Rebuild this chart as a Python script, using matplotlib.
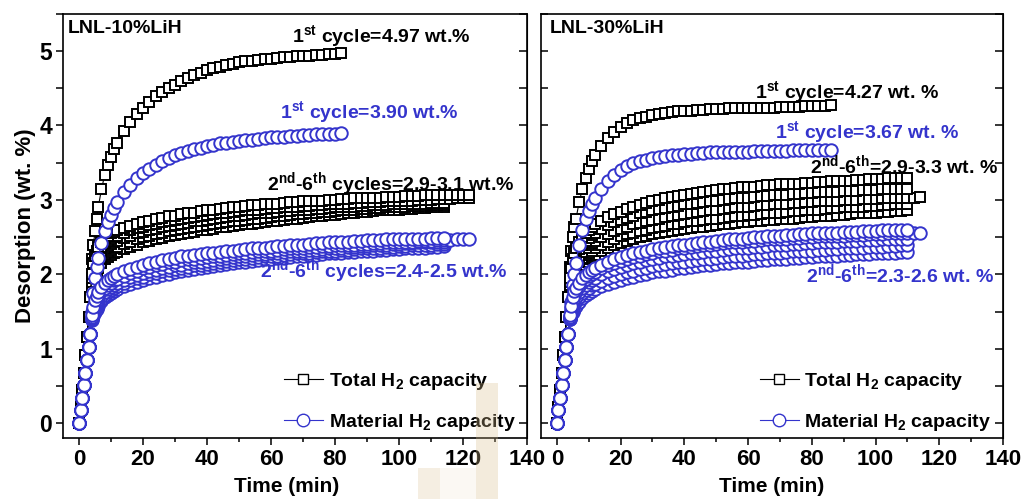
import matplotlib
matplotlib.use('Agg')
import matplotlib.pyplot as plt
from matplotlib.lines import Line2D
from matplotlib.patches import Rectangle
from matplotlib.ticker import MultipleLocator

plt.rcParams['font.family'] = ['Liberation Sans', 'DejaVu Sans']
plt.rcParams['font.weight'] = 'bold'
plt.rcParams['mathtext.fontset'] = 'custom'
plt.rcParams['mathtext.rm'] = 'Liberation Sans:bold'
plt.rcParams['mathtext.it'] = 'Liberation Sans:bold'
plt.rcParams['mathtext.bf'] = 'Liberation Sans:bold'

BLUE = '#3434cc'

# sampling times (min), shared by every run
TIME = [0, 0.5, 1, 1.5, 2, 2.5, 3, 3.5,
        4, 4.5, 5, 5.5, 6, 7, 8, 9, 10, 11, 12,
        14, 16, 18, 20, 22, 24, 26, 28, 30, 32,
        34, 36, 38, 40, 42, 44, 46, 48, 50, 52,
        54, 56, 58, 60, 62, 64, 66, 68, 70, 72,
        74, 76, 78, 80, 82, 84, 86, 88, 90, 92,
        94, 96, 98, 100, 102, 104, 106, 108, 110, 112,
        114, 116, 118, 120, 122]

# heating ramp, common to all cycles (t = 0 ... 3.5 min)
RAMP_TOTAL = [0, 0.22, 0.45, 0.68, 0.92, 1.16, 1.42, 1.7]
RAMP_MAT = [0, 0.17, 0.34, 0.51, 0.68, 0.85, 1.02, 1.2]

# ---- LNL-10%LiH, values from t = 4 min on
TOT10_C1 = [2.2, 2.4, 2.58, 2.75, 2.9, 3.14, 3.33, 3.47, 3.58, 3.68, 3.77,
            3.92, 4.05, 4.15, 4.24, 4.32, 4.39, 4.45, 4.5, 4.55, 4.6,
            4.64, 4.68, 4.71, 4.74, 4.77, 4.79, 4.81, 4.83, 4.85, 4.86,
            4.87, 4.88, 4.89, 4.9, 4.91, 4.92, 4.92, 4.93, 4.94, 4.94,
            4.95, 4.95, 4.96, 4.96, 4.97]
MAT10_C1 = [1.5, 1.75, 1.95, 2.1, 2.22, 2.42, 2.58, 2.7, 2.8, 2.89, 2.97,
            3.1, 3.2, 3.29, 3.36, 3.42, 3.47, 3.52, 3.56, 3.6, 3.63,
            3.66, 3.68, 3.7, 3.72, 3.74, 3.76, 3.77, 3.78, 3.79, 3.8,
            3.81, 3.82, 3.83, 3.84, 3.84, 3.85, 3.86, 3.86, 3.87, 3.87,
            3.88, 3.88, 3.89, 3.89, 3.90]
TOT10_C2 = [2.0, 2.15, 2.25, 2.32, 2.37, 2.44, 2.49, 2.52, 2.55, 2.57, 2.59,
            2.62, 2.65, 2.68, 2.7, 2.72, 2.74, 2.76, 2.78, 2.79, 2.81,
            2.82, 2.83, 2.85, 2.86, 2.87, 2.88, 2.89, 2.9, 2.91, 2.92,
            2.93, 2.93, 2.94, 2.95, 2.95, 2.96, 2.97, 2.97, 2.98, 2.98,
            2.99, 2.99, 3.0, 3.0, 3.01, 3.01, 3.02, 3.02, 3.03, 3.03,
            3.03, 3.04, 3.04, 3.04, 3.05, 3.05, 3.05, 3.06, 3.06, 3.06,
            3.06, 3.07, 3.07, 3.07, 3.07]
TOT10_C3 = [1.95, 2.08, 2.18, 2.25, 2.3, 2.37, 2.42, 2.45, 2.48, 2.5, 2.52,
            2.56, 2.59, 2.62, 2.64, 2.66, 2.68, 2.7, 2.72, 2.73, 2.75,
            2.76, 2.77, 2.79, 2.8, 2.81, 2.82, 2.83, 2.84, 2.85, 2.86,
            2.87, 2.87, 2.88, 2.89, 2.89, 2.9, 2.91, 2.91, 2.92, 2.92,
            2.93, 2.93, 2.94, 2.94, 2.95, 2.95, 2.96, 2.96, 2.97, 2.97,
            2.97, 2.98, 2.98, 2.99, 2.99, 2.99, 3.0, 3.0, 3.0, 3.01,
            3.01, 3.01, 3.02, 3.02, 3.02]
TOT10_C4 = [1.9, 2.02, 2.11, 2.18, 2.23, 2.3, 2.35, 2.38, 2.41, 2.43, 2.45,
            2.49, 2.52, 2.55, 2.57, 2.59, 2.61, 2.63, 2.65, 2.66, 2.68,
            2.69, 2.71, 2.72, 2.73, 2.74, 2.76, 2.77, 2.78, 2.79, 2.8,
            2.81, 2.82, 2.82, 2.83, 2.84, 2.85, 2.85, 2.86, 2.87, 2.87,
            2.88, 2.88, 2.89, 2.9, 2.9, 2.91, 2.91, 2.92, 2.92, 2.93,
            2.93, 2.93, 2.94, 2.94, 2.94, 2.95, 2.95, 2.95, 2.96, 2.96,
            2.96]
TOT10_C5 = [1.85, 1.96, 2.04, 2.1, 2.15, 2.22, 2.27, 2.3, 2.33, 2.35, 2.37,
            2.41, 2.44, 2.47, 2.5, 2.52, 2.54, 2.56, 2.58, 2.59, 2.61,
            2.62, 2.64, 2.65, 2.66, 2.68, 2.69, 2.7, 2.71, 2.72, 2.73,
            2.74, 2.75, 2.76, 2.77, 2.78, 2.79, 2.8, 2.81, 2.81, 2.82,
            2.83, 2.84, 2.84, 2.85, 2.86, 2.86, 2.87, 2.88, 2.88, 2.89,
            2.89, 2.9, 2.9, 2.91, 2.91, 2.92, 2.92, 2.92, 2.93, 2.93,
            2.93]
TOT10_C6 = [1.8, 1.9, 1.97, 2.03, 2.08, 2.15, 2.2, 2.23, 2.26, 2.28, 2.3,
            2.34, 2.37, 2.4, 2.43, 2.45, 2.47, 2.49, 2.51, 2.53, 2.54,
            2.56, 2.57, 2.59, 2.6, 2.61, 2.63, 2.64, 2.65, 2.66, 2.67,
            2.68, 2.69, 2.7, 2.71, 2.72, 2.73, 2.74, 2.75, 2.76, 2.77,
            2.78, 2.79, 2.8, 2.8, 2.81, 2.82, 2.83, 2.84, 2.84, 2.85,
            2.86, 2.86, 2.87, 2.87, 2.88, 2.88, 2.89, 2.89, 2.9, 2.9,
            2.9]
MAT10_C2 = [1.45, 1.56, 1.65, 1.71, 1.76, 1.83, 1.88, 1.92, 1.95, 1.98, 2.0,
            2.04, 2.07, 2.1, 2.13, 2.15, 2.17, 2.19, 2.21, 2.22, 2.24,
            2.25, 2.26, 2.27, 2.28, 2.29, 2.3, 2.31, 2.32, 2.33, 2.34,
            2.35, 2.35, 2.36, 2.37, 2.38, 2.38, 2.39, 2.4, 2.4, 2.41,
            2.42, 2.42, 2.43, 2.43, 2.44, 2.44, 2.45, 2.45, 2.46, 2.46,
            2.46, 2.47, 2.47, 2.47, 2.48, 2.48, 2.48, 2.48, 2.49, 2.49,
            2.49]
MAT10_C3 = [1.43, 1.53, 1.6, 1.66, 1.7, 1.77, 1.82, 1.86, 1.89, 1.92, 1.94,
            1.98, 2.02, 2.05, 2.08, 2.1, 2.12, 2.14, 2.16, 2.17, 2.19,
            2.2, 2.21, 2.22, 2.23, 2.24, 2.25, 2.26, 2.27, 2.28, 2.29,
            2.3, 2.31, 2.32, 2.32, 2.33, 2.34, 2.35, 2.35, 2.36, 2.37,
            2.37, 2.38, 2.38, 2.39, 2.39, 2.4, 2.4, 2.41, 2.41, 2.42,
            2.42, 2.43, 2.43, 2.44, 2.44, 2.44, 2.45, 2.45, 2.45, 2.46,
            2.46, 2.46, 2.47, 2.47, 2.47]
MAT10_C4 = [1.41, 1.5, 1.56, 1.61, 1.65, 1.71, 1.76, 1.8, 1.83, 1.86, 1.88,
            1.92, 1.96, 1.99, 2.02, 2.04, 2.06, 2.08, 2.1, 2.12, 2.13,
            2.15, 2.16, 2.17, 2.18, 2.19, 2.21, 2.22, 2.23, 2.24, 2.25,
            2.26, 2.27, 2.27, 2.28, 2.29, 2.3, 2.31, 2.31, 2.32, 2.33,
            2.33, 2.34, 2.35, 2.35, 2.36, 2.37, 2.37, 2.38, 2.38, 2.39,
            2.4, 2.4, 2.41, 2.41, 2.42, 2.42, 2.43, 2.43, 2.44, 2.44,
            2.44]
MAT10_C5 = [1.4, 1.47, 1.53, 1.57, 1.61, 1.67, 1.72, 1.76, 1.79, 1.82, 1.84,
            1.88, 1.92, 1.95, 1.97, 2.0, 2.02, 2.04, 2.06, 2.07, 2.09,
            2.1, 2.12, 2.13, 2.14, 2.15, 2.17, 2.18, 2.19, 2.2, 2.21,
            2.22, 2.23, 2.24, 2.25, 2.25, 2.26, 2.27, 2.28, 2.29, 2.29,
            2.3, 2.31, 2.31, 2.32, 2.33, 2.33, 2.34, 2.35, 2.35, 2.36,
            2.36, 2.37, 2.37, 2.38, 2.38, 2.39, 2.39, 2.4, 2.4, 2.41,
            2.41]
MAT10_C6 = [1.38, 1.44, 1.5, 1.54, 1.58, 1.64, 1.69, 1.72, 1.75, 1.78, 1.8,
            1.84, 1.87, 1.9, 1.93, 1.95, 1.97, 1.99, 2.01, 2.03, 2.04,
            2.06, 2.07, 2.09, 2.1, 2.11, 2.12, 2.14, 2.15, 2.16, 2.17,
            2.18, 2.19, 2.2, 2.21, 2.22, 2.22, 2.23, 2.24, 2.25, 2.26,
            2.26, 2.27, 2.28, 2.28, 2.29, 2.3, 2.3, 2.31, 2.32, 2.32,
            2.33, 2.33, 2.34, 2.34, 2.35, 2.35, 2.36, 2.36, 2.37, 2.37,
            2.38]

# ---- LNL-30%LiH, values from t = 4 min on
TOT30_C1 = [2.1, 2.32, 2.5, 2.63, 2.75, 2.97, 3.15, 3.3, 3.42, 3.52, 3.6,
            3.73, 3.83, 3.91, 3.98, 4.03, 4.07, 4.1, 4.12, 4.14, 4.16,
            4.17, 4.18, 4.19, 4.2, 4.2, 4.21, 4.21, 4.22, 4.22, 4.22,
            4.23, 4.23, 4.23, 4.23, 4.24, 4.24, 4.24, 4.24, 4.25, 4.25,
            4.25, 4.25, 4.26, 4.26, 4.26, 4.26, 4.27]
MAT30_C1 = [1.4, 1.63, 1.85, 2.0, 2.15, 2.4, 2.6, 2.74, 2.85, 2.94, 3.02,
            3.15, 3.25, 3.33, 3.4, 3.45, 3.49, 3.52, 3.54, 3.56, 3.58,
            3.59, 3.6, 3.61, 3.62, 3.62, 3.63, 3.63, 3.64, 3.64, 3.64,
            3.65, 3.65, 3.65, 3.65, 3.66, 3.66, 3.66, 3.66, 3.66, 3.66,
            3.67, 3.67, 3.67, 3.67, 3.67, 3.67, 3.67]
TOT30_C2 = [1.95, 2.08, 2.2, 2.28, 2.35, 2.44, 2.5, 2.55, 2.6, 2.64, 2.67,
            2.72, 2.77, 2.81, 2.84, 2.88, 2.91, 2.93, 2.96, 2.98, 3.0,
            3.02, 3.04, 3.05, 3.07, 3.08, 3.09, 3.1, 3.12, 3.13, 3.14,
            3.15, 3.16, 3.17, 3.17, 3.18, 3.19, 3.2, 3.2, 3.21, 3.21,
            3.22, 3.22, 3.23, 3.23, 3.24, 3.24, 3.25, 3.25, 3.26, 3.26,
            3.27, 3.27, 3.28, 3.28, 3.28, 3.29, 3.29, 3.29, 3.3]
TOT30_C3 = [1.9, 2.02, 2.12, 2.2, 2.26, 2.34, 2.4, 2.45, 2.49, 2.53, 2.56,
            2.61, 2.66, 2.7, 2.73, 2.76, 2.79, 2.82, 2.84, 2.86, 2.88,
            2.89, 2.91, 2.92, 2.94, 2.95, 2.96, 2.97, 2.98, 2.99, 3.0,
            3.01, 3.02, 3.02, 3.03, 3.04, 3.05, 3.05, 3.06, 3.07, 3.07,
            3.08, 3.08, 3.09, 3.09, 3.1, 3.1, 3.11, 3.11, 3.12, 3.12,
            3.12, 3.13, 3.13, 3.13, 3.14, 3.14, 3.14, 3.15, 3.15]
TOT30_C4 = [1.85, 1.96, 2.05, 2.12, 2.17, 2.25, 2.3, 2.35, 2.39, 2.42, 2.45,
            2.5, 2.54, 2.58, 2.61, 2.64, 2.67, 2.69, 2.71, 2.73, 2.75,
            2.77, 2.78, 2.8, 2.81, 2.83, 2.84, 2.85, 2.86, 2.87, 2.88,
            2.89, 2.9, 2.91, 2.91, 2.92, 2.93, 2.93, 2.94, 2.95, 2.95,
            2.96, 2.96, 2.97, 2.97, 2.98, 2.98, 2.99, 2.99, 3.0, 3.0,
            3.0, 3.01, 3.01, 3.01, 3.02, 3.02, 3.02, 3.03, 3.03, 3.03,
            3.04]
TOT30_C5 = [1.82, 1.91, 2.0, 2.06, 2.1, 2.17, 2.22, 2.26, 2.29, 2.32, 2.35,
            2.4, 2.44, 2.48, 2.51, 2.54, 2.56, 2.58, 2.6, 2.62, 2.64,
            2.65, 2.67, 2.68, 2.7, 2.71, 2.72, 2.73, 2.74, 2.75, 2.76,
            2.77, 2.78, 2.79, 2.8, 2.8, 2.81, 2.82, 2.83, 2.83, 2.84,
            2.85, 2.85, 2.86, 2.87, 2.87, 2.88, 2.89, 2.89, 2.9, 2.9,
            2.91, 2.91, 2.92, 2.92, 2.93, 2.93, 2.94, 2.94, 2.95]
TOT30_C6 = [1.78, 1.85, 1.92, 1.97, 2.02, 2.08, 2.13, 2.17, 2.2, 2.23, 2.26,
            2.31, 2.35, 2.39, 2.42, 2.45, 2.47, 2.5, 2.52, 2.54, 2.55,
            2.57, 2.58, 2.6, 2.61, 2.62, 2.63, 2.64, 2.65, 2.66, 2.67,
            2.68, 2.69, 2.7, 2.7, 2.71, 2.72, 2.73, 2.73, 2.74, 2.75,
            2.75, 2.76, 2.77, 2.77, 2.78, 2.79, 2.79, 2.8, 2.8, 2.81,
            2.82, 2.82, 2.83, 2.83, 2.84, 2.84, 2.85, 2.85, 2.86]
MAT30_C2 = [1.45, 1.58, 1.7, 1.77, 1.82, 1.89, 1.95, 1.99, 2.03, 2.06, 2.08,
            2.13, 2.17, 2.2, 2.23, 2.26, 2.28, 2.3, 2.32, 2.34, 2.36,
            2.37, 2.38, 2.39, 2.4, 2.41, 2.42, 2.43, 2.44, 2.45, 2.46,
            2.47, 2.48, 2.48, 2.49, 2.5, 2.5, 2.51, 2.52, 2.52, 2.53,
            2.53, 2.54, 2.54, 2.55, 2.55, 2.55, 2.56, 2.56, 2.57, 2.57,
            2.57, 2.58, 2.58, 2.58, 2.59, 2.59, 2.59, 2.6, 2.6]
MAT30_C3 = [1.43, 1.55, 1.66, 1.72, 1.77, 1.84, 1.9, 1.94, 1.98, 2.01, 2.03,
            2.08, 2.12, 2.15, 2.18, 2.21, 2.23, 2.25, 2.27, 2.29, 2.31,
            2.32, 2.33, 2.35, 2.36, 2.37, 2.38, 2.39, 2.4, 2.41, 2.42,
            2.43, 2.43, 2.44, 2.45, 2.45, 2.46, 2.47, 2.47, 2.48, 2.48,
            2.49, 2.49, 2.5, 2.5, 2.51, 2.51, 2.52, 2.52, 2.52, 2.53,
            2.53, 2.53, 2.54, 2.54, 2.54, 2.55, 2.55, 2.55, 2.55, 2.56,
            2.56]
MAT30_C4 = [1.42, 1.51, 1.6, 1.66, 1.7, 1.76, 1.82, 1.86, 1.9, 1.93, 1.95,
            2.0, 2.04, 2.07, 2.1, 2.13, 2.15, 2.17, 2.19, 2.21, 2.22,
            2.24, 2.25, 2.26, 2.27, 2.28, 2.29, 2.3, 2.31, 2.32, 2.33,
            2.34, 2.35, 2.35, 2.36, 2.37, 2.37, 2.38, 2.39, 2.39, 2.4,
            2.41, 2.41, 2.42, 2.42, 2.43, 2.43, 2.44, 2.44, 2.45, 2.45,
            2.45, 2.46, 2.46, 2.46, 2.47, 2.47, 2.47, 2.48, 2.48]
MAT30_C5 = [1.41, 1.48, 1.55, 1.6, 1.64, 1.7, 1.75, 1.79, 1.82, 1.85, 1.87,
            1.91, 1.95, 1.98, 2.01, 2.03, 2.05, 2.07, 2.09, 2.11, 2.12,
            2.14, 2.15, 2.16, 2.17, 2.18, 2.19, 2.2, 2.21, 2.22, 2.23,
            2.24, 2.25, 2.25, 2.26, 2.27, 2.27, 2.28, 2.29, 2.29, 2.3,
            2.31, 2.31, 2.32, 2.32, 2.33, 2.33, 2.34, 2.34, 2.35, 2.35,
            2.36, 2.36, 2.37, 2.37, 2.37, 2.38, 2.38, 2.39, 2.39]
MAT30_C6 = [1.4, 1.45, 1.5, 1.54, 1.58, 1.63, 1.68, 1.72, 1.75, 1.78, 1.8,
            1.84, 1.87, 1.9, 1.93, 1.95, 1.97, 1.99, 2.01, 2.03, 2.04,
            2.05, 2.06, 2.08, 2.09, 2.1, 2.11, 2.12, 2.13, 2.14, 2.15,
            2.15, 2.16, 2.17, 2.17, 2.18, 2.19, 2.19, 2.2, 2.21, 2.21,
            2.22, 2.22, 2.23, 2.23, 2.24, 2.24, 2.25, 2.25, 2.26, 2.26,
            2.27, 2.27, 2.27, 2.28, 2.28, 2.29, 2.29, 2.3, 2.3]

SQUARE = dict(marker='s', ms=7.8, mfc='white', mec='black', mew=1.4,
              color='black', lw=0.8)
CIRCLE = dict(marker='o', ms=9, mfc='white', mec=BLUE, mew=1.4,
              color=BLUE, lw=0.8)


def draw(ax, ramp, values, style):
    y = ramp + values
    ax.plot(TIME[:len(y)], y, **style)


def setup(ax, outer_left, label_x):
    ax.set_xlim(-5, 140)
    ax.set_ylim(-0.2, 5.5)
    ax.xaxis.set_major_locator(MultipleLocator(20))
    ax.xaxis.set_minor_locator(MultipleLocator(10))
    ax.yaxis.set_major_locator(MultipleLocator(1))
    ax.yaxis.set_minor_locator(MultipleLocator(0.5))
    for s in ax.spines.values():
        s.set_linewidth(1.2)
    ax.tick_params(axis='x', which='both', direction='out', top=False,
                   labelsize=16, width=1.1, pad=3)
    ax.tick_params(axis='x', which='major', length=5)
    ax.tick_params(axis='x', which='minor', length=3)
    ax.tick_params(axis='y', which='both', labelsize=16.5, width=1.1,
                   direction='out' if outer_left else 'in',
                   labelleft=outer_left, length=5, pad=3)
    right = ax.secondary_yaxis('right')
    right.yaxis.set_major_locator(MultipleLocator(1))
    right.yaxis.set_minor_locator(MultipleLocator(0.5))
    right.tick_params(axis='y', which='both', direction='in', length=6,
                      width=1.1, labelright=False)
    ax.set_xlabel('Time (min)', fontsize=15, fontweight='bold')
    ax.xaxis.set_label_coords(label_x, -0.093)


fig = plt.figure(figsize=(10.23, 4.99), dpi=100)
ax1 = fig.add_axes([0.0616, 0.1222, 0.4536, 0.850])
ax2 = fig.add_axes([0.5288, 0.1222, 0.4516, 0.850])

# LNL-10%LiH
for vals in [TOT10_C1, TOT10_C6, TOT10_C5, TOT10_C4, TOT10_C3, TOT10_C2]:
    draw(ax1, RAMP_TOTAL, vals, SQUARE)
for vals in [MAT10_C1, MAT10_C6, MAT10_C5, MAT10_C4, MAT10_C3, MAT10_C2]:
    draw(ax1, RAMP_MAT, vals, CIRCLE)

# LNL-30%LiH
for vals in [TOT30_C1, TOT30_C6, TOT30_C5, TOT30_C4, TOT30_C3, TOT30_C2]:
    draw(ax2, RAMP_TOTAL, vals, SQUARE)
for vals in [MAT30_C1, MAT30_C6, MAT30_C5, MAT30_C4, MAT30_C3, MAT30_C2]:
    draw(ax2, RAMP_MAT, vals, CIRCLE)

setup(ax1, True, 0.482)
setup(ax2, False, 0.5)
ax1.set_ylabel('Desorption (wt. %)', fontsize=16, fontweight='bold', labelpad=2)

fs = 14
ax1.text(-3.4, 5.31, 'LNL-10%LiH', fontsize=14, ha='left', va='center')
ax1.text(94.4, 5.2, r'1$^{st}$ cycle=4.97 wt.%', fontsize=fs, ha='center', va='center')
ax1.text(90.6, 4.18, r'1$^{st}$ cycle=3.90 wt.%', fontsize=fs, ha='center', va='center',
         color=BLUE)
ax1.text(97.5, 3.21, r'2$^{nd}$-6$^{th}$ cycles=2.9-3.1 wt.%', fontsize=fs,
         ha='center', va='center')
ax1.text(95.3, 2.04, r'2$^{nd}$-6$^{th}$ cycles=2.4-2.5 wt.%', fontsize=fs,
         ha='center', va='center', color=BLUE)

ax2.text(-2.2, 5.31, 'LNL-30%LiH', fontsize=14, ha='left', va='center')
ax2.text(91, 4.45, r'1$^{st}$ cycle=4.27 wt. %', fontsize=fs, ha='center', va='center')
ax2.text(97.3, 3.91, r'1$^{st}$ cycle=3.67 wt. %', fontsize=fs, ha='center', va='center',
         color=BLUE)
ax2.text(109, 3.47, r'2$^{nd}$-6$^{th}$=2.9-3.3 wt. %', fontsize=fs, ha='center',
         va='center')
ax2.text(107.7, 2.0, r'2$^{nd}$-6$^{th}$=2.3-2.6 wt. %', fontsize=fs, ha='center',
         va='center', color=BLUE)

# legend keys keep the thinner outline
handles = [Line2D([], [], **dict(SQUARE, mew=1.0)),
           Line2D([], [], **dict(CIRCLE, mew=1.0))]
labels = [r'Total H$_2$ capacity', r'Material H$_2$ capacity']
for ax in (ax1, ax2):
    ax.legend(handles, labels, loc='lower right', bbox_to_anchor=(1.0, -0.015),
              frameon=False, fontsize=14, handlelength=2.0, handletextpad=0.3,
              labelspacing=1.0, numpoints=1, borderaxespad=0.2)

# faint logo stamped over the lower middle of the page
W, H = 1023, 499
for x0, y0, x1, y1, a in [(476, 383, 498, 499, 0.3), (418, 468, 440, 499, 0.25),
                          (440, 468, 476, 499, 0.1)]:
    fig.patches.append(Rectangle((x0 / W, 1 - y1 / H), (x1 - x0) / W, (y1 - y0) / H,
                                 transform=fig.transFigure, color='#d9bf8c',
                                 alpha=a, lw=0, zorder=5))

fig.savefig('out.png', dpi=100)
